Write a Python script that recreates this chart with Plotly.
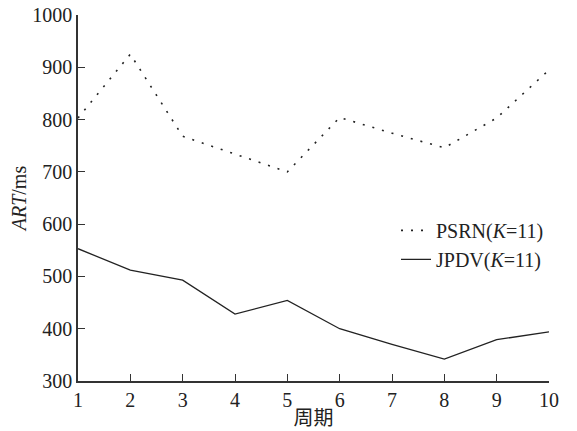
import plotly.graph_objects as go

periods = [1, 2, 3, 4, 5, 6, 7, 8, 9, 10]
psrn = [803, 925, 768, 734, 700, 804, 774, 746, 803, 895]
jpdv = [553, 512, 493, 428, 454, 400, 370, 342, 379, 394]
y_ticks = [300, 400, 500, 600, 700, 800, 900, 1000]

serif = "Times New Roman"

fig = go.Figure()
fig.add_trace(go.Scatter(x=periods, y=psrn, mode="lines", name="PSRN(<i>K</i>=11)",
                         line=dict(color="#222", width=1.6, dash="2px,8px")))
fig.add_trace(go.Scatter(x=periods, y=jpdv, mode="lines", name="JPDV(<i>K</i>=11)",
                         line=dict(color="#222", width=1.3)))

fig.update_layout(
    width=577, height=431,
    margin=dict(l=78, r=28, t=15, b=50),
    paper_bgcolor="white", plot_bgcolor="white",
    font=dict(family=serif, size=20, color="#222"),
    showlegend=True,
    legend=dict(x=1.0, xanchor="right", y=0.372, yanchor="middle",
                bgcolor="rgba(0,0,0,0)", font=dict(family=serif, size=20)),
    xaxis=dict(range=[1, 10], tickvals=periods, ticks="inside", ticklen=7, tickwidth=1.2,
               tickcolor="#333", showline=True, linecolor="#333", linewidth=1.6,
               showgrid=False, zeroline=False, automargin=False,
               tickfont=dict(family=serif, size=20),
               title=dict(text="周期", font=dict(family="Noto Sans CJK SC", size=20), standoff=3)),
    yaxis=dict(range=[300, 1000], tickvals=y_ticks, ticks="inside", ticklen=7, tickwidth=1.2,
               tickcolor="#333", showline=True, linecolor="#333", linewidth=1.6,
               showgrid=False, zeroline=False, automargin=False,
               tickfont=dict(family=serif, size=20),
               title=dict(text="<i>ART</i>/ms", font=dict(family=serif, size=20), standoff=0)),
)

fig.write_html("out.html", config={"displayModeBar": False},
               post_script="document.body.style.margin='0';")
